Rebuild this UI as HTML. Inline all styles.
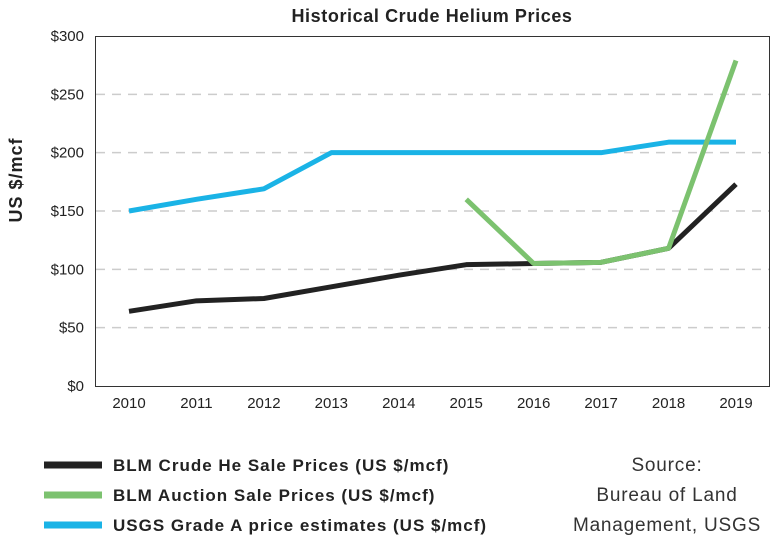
<!DOCTYPE html>
<html><head><meta charset="utf-8"><style>
body{margin:0;background:#fff;width:780px;height:541px;overflow:hidden;font-family:"Liberation Sans",sans-serif}
svg text{font-family:"Liberation Sans",sans-serif}
</style></head><body>
<svg id="chart" width="780" height="541">
<text x="432" y="22" text-anchor="middle" font-size="18" font-weight="bold" letter-spacing="0.6" fill="#222">Historical Crude Helium Prices</text>
<text transform="translate(22,180) rotate(-90)" text-anchor="middle" font-size="18" font-weight="bold" letter-spacing="1" fill="#222">US $/mcf</text>
<g id="grid"></g><g id="series"></g>
<rect x="95.5" y="36.5" width="674" height="350" fill="none" stroke="#333" stroke-width="1"/>
<g font-size="17" font-weight="bold" letter-spacing="1" fill="#222">
<line x1="44" y1="465" x2="102" y2="465" stroke="#222" stroke-width="7"/>
<text x="113" y="471">BLM Crude He Sale Prices (US $/mcf)</text>
<line x1="44" y1="495" x2="102" y2="495" stroke="#7cc26f" stroke-width="7"/>
<text x="113" y="501">BLM Auction Sale Prices (US $/mcf)</text>
<line x1="44" y1="525" x2="102" y2="525" stroke="#1ab3e6" stroke-width="7"/>
<text x="113" y="531">USGS Grade A price estimates (US $/mcf)</text>
</g>
<g font-size="19" letter-spacing="0.8" fill="#333" text-anchor="middle">
<text x="667" y="471">Source:</text><text x="667" y="501">Bureau of Land</text><text x="667" y="531">Management, USGS</text>
</g>
</svg>
<script>
const years=[2010,2011,2012,2013,2014,2015,2016,2017,2018,2019];
const blmCrude=[64,73,75,85,95,104,105,106,118,173];
const auctionYears=[2015,2016,2017,2018,2019];
const blmAuction=[160,105,106,118,279];
const usgs=[150,160,169,200,200,200,200,200,209,209];
const yTicks=[0,50,100,150,200,250,300];
const yTickLabels=["$0","$50","$100","$150","$200","$250","$300"];
const NS="http://www.w3.org/2000/svg";
const xs=y=>129+(y-2010)*(736-129)/9;
const ys=v=>386-v*350/300;
const grid=document.getElementById('grid'),ser=document.getElementById('series');
yTicks.forEach((t,i)=>{
 if(t>0&&t<300){const l=document.createElementNS(NS,'line');
 l.setAttribute('x1',96);l.setAttribute('x2',769);l.setAttribute('y1',ys(t));l.setAttribute('y2',ys(t));
 l.setAttribute('stroke','#ccc');l.setAttribute('stroke-width','1.5');l.setAttribute('stroke-dasharray','9 7');
 
 
 grid.appendChild(l);}
 const tx=document.createElementNS(NS,'text');
 tx.setAttribute('x',84);tx.setAttribute('y',ys(t)+5);tx.setAttribute('text-anchor','end');tx.setAttribute('font-size','15');tx.setAttribute('fill','#222');
 tx.textContent=yTickLabels[i];
 
 
 grid.appendChild(tx);
});
years.forEach(y=>{
 const tx=document.createElementNS(NS,'text');
 tx.setAttribute('x',xs(y));tx.setAttribute('y',408);tx.setAttribute('text-anchor','middle');tx.setAttribute('font-size','15');tx.setAttribute('fill','#222');
 tx.textContent=y;
 
 
 grid.appendChild(tx);
});
function line(xv,yv,color,name){
 const p=document.createElementNS(NS,'polyline');
 p.setAttribute('points',xv.map((x,i)=>xs(x)+','+ys(yv[i])).join(' '));
 p.setAttribute('fill','none');p.setAttribute('stroke',color);p.setAttribute('stroke-width','5');p.setAttribute('stroke-linejoin','round');
 
 
 ser.appendChild(p);
}
line(years,usgs,'#1ab3e6','usgs-line');
line(years,blmCrude,'#222','blm-crude-line');
line(auctionYears,blmAuction,'#7cc26f','blm-auction-line');
</script>
</body></html>
